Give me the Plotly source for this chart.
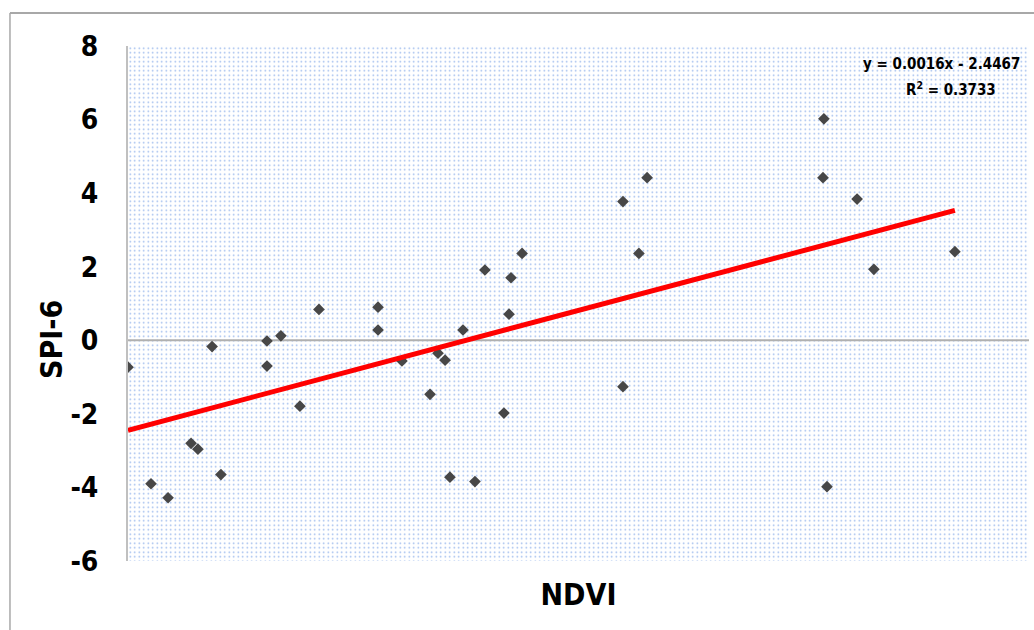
import plotly.graph_objects as go

# NDVI (arbitrary units consistent with the trend equation) and SPI-6 values
ndvi = [0, 104, 181, 285, 316, 380, 420, 628, 628, 691, 777, 863, 1130, 1130,
        1238, 1365, 1401, 1433, 1455, 1514, 1568, 1613, 1699, 1722, 1731, 1781,
        2237, 2237, 2309, 2346, 3145, 3141, 3295, 3371, 3737, 3159]
spi6 = [-0.73, -3.90, -4.28, -2.80, -2.96, -0.17, -3.65, -0.02, -0.70, 0.12,
        -1.79, 0.84, 0.90, 0.28, -0.56, -1.47, -0.35, -0.54, -3.72, 0.28,
        -3.84, 1.91, -1.98, 0.71, 1.70, 2.36, 3.77, -1.26, 2.36, 4.42,
        6.02, 4.42, 3.84, 1.93, 2.41, -3.98]

slope = 0.0016
intercept = -2.4467
r2 = 0.3733

x_range = [0, 4072]
y_range = [-6, 8]
y_ticks = [-6, -4, -2, 0, 2, 4, 6, 8]

FONT = "Liberation Sans Narrow, DejaVu Sans Condensed, Arial Narrow, sans-serif"

fig = go.Figure()

# dotted plot-area background
fig.add_trace(go.Scatter(
    x=[x_range[0], x_range[1], x_range[1], x_range[0], x_range[0]],
    y=[y_range[0], y_range[0], y_range[1], y_range[1], y_range[0]],
    mode="lines", fill="toself", line=dict(width=0),
    fillcolor="rgba(0,0,0,0)",
    fillpattern=dict(shape=".", size=4.5, solidity=0.1,
                     fgcolor="#2a6ad8", bgcolor="white", fillmode="overlay"),
    hoverinfo="skip", showlegend=False))

# zero line
fig.add_trace(go.Scatter(x=x_range, y=[0, 0], mode="lines",
                         line=dict(color="#b0b0b0", width=2),
                         hoverinfo="skip", showlegend=False))

# scatter points
fig.add_trace(go.Scatter(x=ndvi, y=spi6, mode="markers",
                         marker=dict(symbol="diamond", size=9, color="#474747"),
                         showlegend=False))

# linear trend line
xmin, xmax = min(ndvi), max(ndvi)
fig.add_trace(go.Scatter(x=[xmin, xmax],
                         y=[slope * xmin + intercept, slope * xmax + intercept],
                         mode="lines", line=dict(color="#ff0000", width=5),
                         showlegend=False))

fig.add_annotation(xref="paper", yref="paper", x=0.992, y=0.966,
                   xanchor="right", yanchor="middle", showarrow=False,
                   text=f"<b>y = {slope}x - {abs(intercept)}</b>",
                   font=dict(family=FONT, size=15, color="black"))
fig.add_annotation(xref="paper", yref="paper", x=0.913, y=0.916,
                   xanchor="center", yanchor="middle", showarrow=False,
                   text=f"<b>R<sup>2</sup> = {r2}</b>",
                   font=dict(family=FONT, size=15, color="black"))

# y-axis title
fig.add_annotation(xref="paper", yref="paper", x=-0.0855, y=0.431,
                   xanchor="center", yanchor="middle", showarrow=False,
                   textangle=-90, text="<b>SPI-6</b>",
                   font=dict(family=FONT, size=30, color="black"))

# outer chart frame (top and left edges visible)
fig.add_shape(type="line", xref="paper", yref="paper", x0=-0.131, x1=1.01,
              y0=1.064, y1=1.064, line=dict(color="#a8a8a8", width=2))
fig.add_shape(type="line", xref="paper", yref="paper", x0=-0.131, x1=-0.131,
              y0=-0.2, y1=1.064, line=dict(color="#a8a8a8", width=1.5))

fig.update_layout(
    width=1034, height=630,
    margin=dict(l=128, r=5, t=46, b=69),
    paper_bgcolor="white", plot_bgcolor="white",
    font=dict(family=FONT, color="black"),
    xaxis=dict(range=x_range, showticklabels=False, showgrid=False,
               zeroline=False, showline=False, ticks="",
               title=dict(text="<b>NDVI</b>", font=dict(size=30), standoff=22)),
    yaxis=dict(range=y_range, tickvals=y_ticks,
               ticktext=[f"<b>{v}</b>" for v in y_ticks],
               tickfont=dict(size=28), showgrid=False, zeroline=False,
               showline=True, linecolor="#c0c0c0", linewidth=2, ticks="",
               ticklabelstandoff=22),
)

fig.write_html("out.html", config={"displayModeBar": False},
               post_script="document.body.style.margin='0';")
